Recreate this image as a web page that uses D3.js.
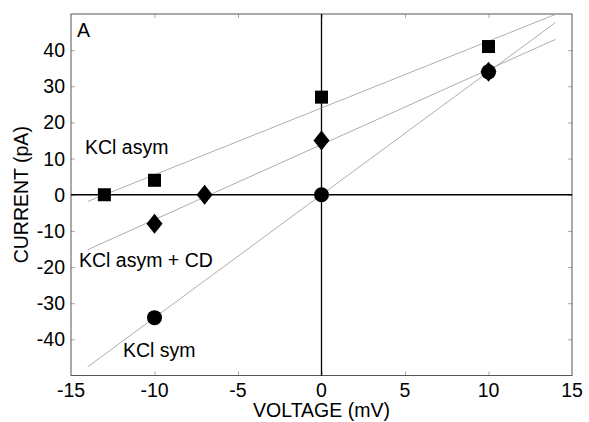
<!DOCTYPE html>
<html>
<head>
<script src="https://cdnjs.cloudflare.com/ajax/libs/d3/7.8.5/d3.min.js"></script>
<style>
  body { margin: 0; background: white; }
  text { font-family: "Liberation Sans", Arial, sans-serif; }
</style>
</head>
<body></body>
<script>
var screen = {width: 589, height: 422};
var margin = {left: 71, right: 17, top: 14, bottom: 46.5};
var fontSize = 19.5;

var xTicks = [-15, -10, -5, 0, 5, 10, 15];
var yTicks = [-40, -30, -20, -10, 0, 10, 20, 30, 40];

// KCl asym (squares)
var asymV = [-13, -10, 0, 10];
var asymI = [0, 4, 27, 41];
// KCl asym + CD (diamonds)
var cdV = [-10, -7, 0, 10];
var cdI = [-8, 0, 15, 34];
// KCl sym (circles)
var symV = [-10, 0, 10];
var symI = [-34, 0, 34];

var svg = d3.select("body")
  .append("svg")
  .attr("width", screen.width)
  .attr("height", screen.height);

var x = d3.scaleLinear().domain([-15, 15]).range([margin.left, screen.width - margin.right]);
var y = d3.scaleLinear().domain([-50, 50]).range([screen.height - margin.bottom, margin.top]);

// inward ticks on all four sides
function tickAxis(axis, transform, values) {
  var g = svg.append("g").attr("transform", transform)
    .call(axis.tickValues(values).tickSize(-4).tickFormat(""));
  g.select(".domain").remove();
  g.selectAll("line").attr("stroke", "#aaa");
}
tickAxis(d3.axisBottom(x), "translate(0," + y(-50) + ")", [-10, -5, 0, 5, 10]);
tickAxis(d3.axisTop(x), "translate(0," + y(50) + ")", [-10, -5, 0, 5, 10]);
tickAxis(d3.axisLeft(y), "translate(" + x(-15) + ",0)", yTicks);
tickAxis(d3.axisRight(y), "translate(" + x(15) + ",0)", yTicks);

svg.append("rect")
  .attr("x", x(-15)).attr("y", y(50))
  .attr("width", x(15) - x(-15)).attr("height", y(-50) - y(50))
  .attr("fill", "none").attr("stroke", "#555").attr("stroke-width", 1);

// tick labels
svg.selectAll(".xl").data(xTicks).enter().append("text")
  .attr("x", function(d) { return x(d); })
  .attr("y", 397)
  .attr("text-anchor", "middle")
  .attr("font-size", fontSize)
  .text(function(d) { return d; });
svg.selectAll(".yl").data(yTicks).enter().append("text")
  .attr("x", 65)
  .attr("y", function(d) { return y(d) + 7; })
  .attr("text-anchor", "end")
  .attr("font-size", fontSize)
  .text(function(d) { return d; });

// zero axes
svg.append("line").attr("x1", x(-15)).attr("x2", x(15)).attr("y1", y(0)).attr("y2", y(0))
  .attr("stroke", "black").attr("stroke-width", 1.3);
svg.append("line").attr("x1", x(0)).attr("x2", x(0)).attr("y1", y(-50)).attr("y2", y(50))
  .attr("stroke", "black").attr("stroke-width", 1.3);

// least-squares fit lines
function fit(xs, ys) {
  var mx = d3.mean(xs), my = d3.mean(ys), sxx = 0, sxy = 0;
  xs.forEach(function(v, i) { sxx += (v - mx) * (v - mx); sxy += (v - mx) * (ys[i] - my); });
  var b = sxy / sxx;
  return function(v) { return my + b * (v - mx); };
}
[[asymV, asymI], [cdV, cdI], [symV, symI]].forEach(function(s) {
  var f = fit(s[0], s[1]);
  svg.append("line")
    .attr("x1", x(-14)).attr("y1", y(f(-14)))
    .attr("x2", x(14)).attr("y2", y(f(14)))
    .attr("stroke", "#999").attr("stroke-width", 0.8);
});

// markers
svg.selectAll(".sq").data(asymV).enter().append("rect")
  .attr("x", function(d) { return x(d) - 6.5; })
  .attr("y", function(d, i) { return y(asymI[i]) - 6.5; })
  .attr("width", 13).attr("height", 13)
  .attr("fill", "black");
svg.selectAll(".dm").data(cdV).enter().append("path")
  .attr("d", function(d, i) {
    var cx = x(d), cy = y(cdI[i]);
    return "M" + cx + "," + (cy - 10) + "L" + (cx + 8) + "," + cy + "L" + cx + "," + (cy + 10) + "L" + (cx - 8) + "," + cy + "Z";
  })
  .attr("fill", "black");
svg.selectAll(".ci").data(symV).enter().append("circle")
  .attr("cx", function(d) { return x(d); })
  .attr("cy", function(d, i) { return y(symI[i]); })
  .attr("r", 7.5)
  .attr("fill", "black");

// labels
svg.append("text").attr("x", 77).attr("y", 37).attr("font-size", fontSize).text("A");
svg.append("text").attr("x", 85).attr("y", 154).attr("font-size", fontSize).text("KCl asym");
svg.append("text").attr("x", 79).attr("y", 267).attr("font-size", fontSize).text("KCl asym + CD");
svg.append("text").attr("x", 123).attr("y", 357).attr("font-size", fontSize).text("KCl sym");

svg.append("text").attr("x", x(0)).attr("y", 417).attr("text-anchor", "middle")
  .attr("font-size", fontSize).text("VOLTAGE (mV)");
svg.append("text").attr("transform", "translate(28," + y(0) + ") rotate(-90)")
  .attr("text-anchor", "middle").attr("font-size", fontSize).text("CURRENT (pA)");
</script>
</html>
